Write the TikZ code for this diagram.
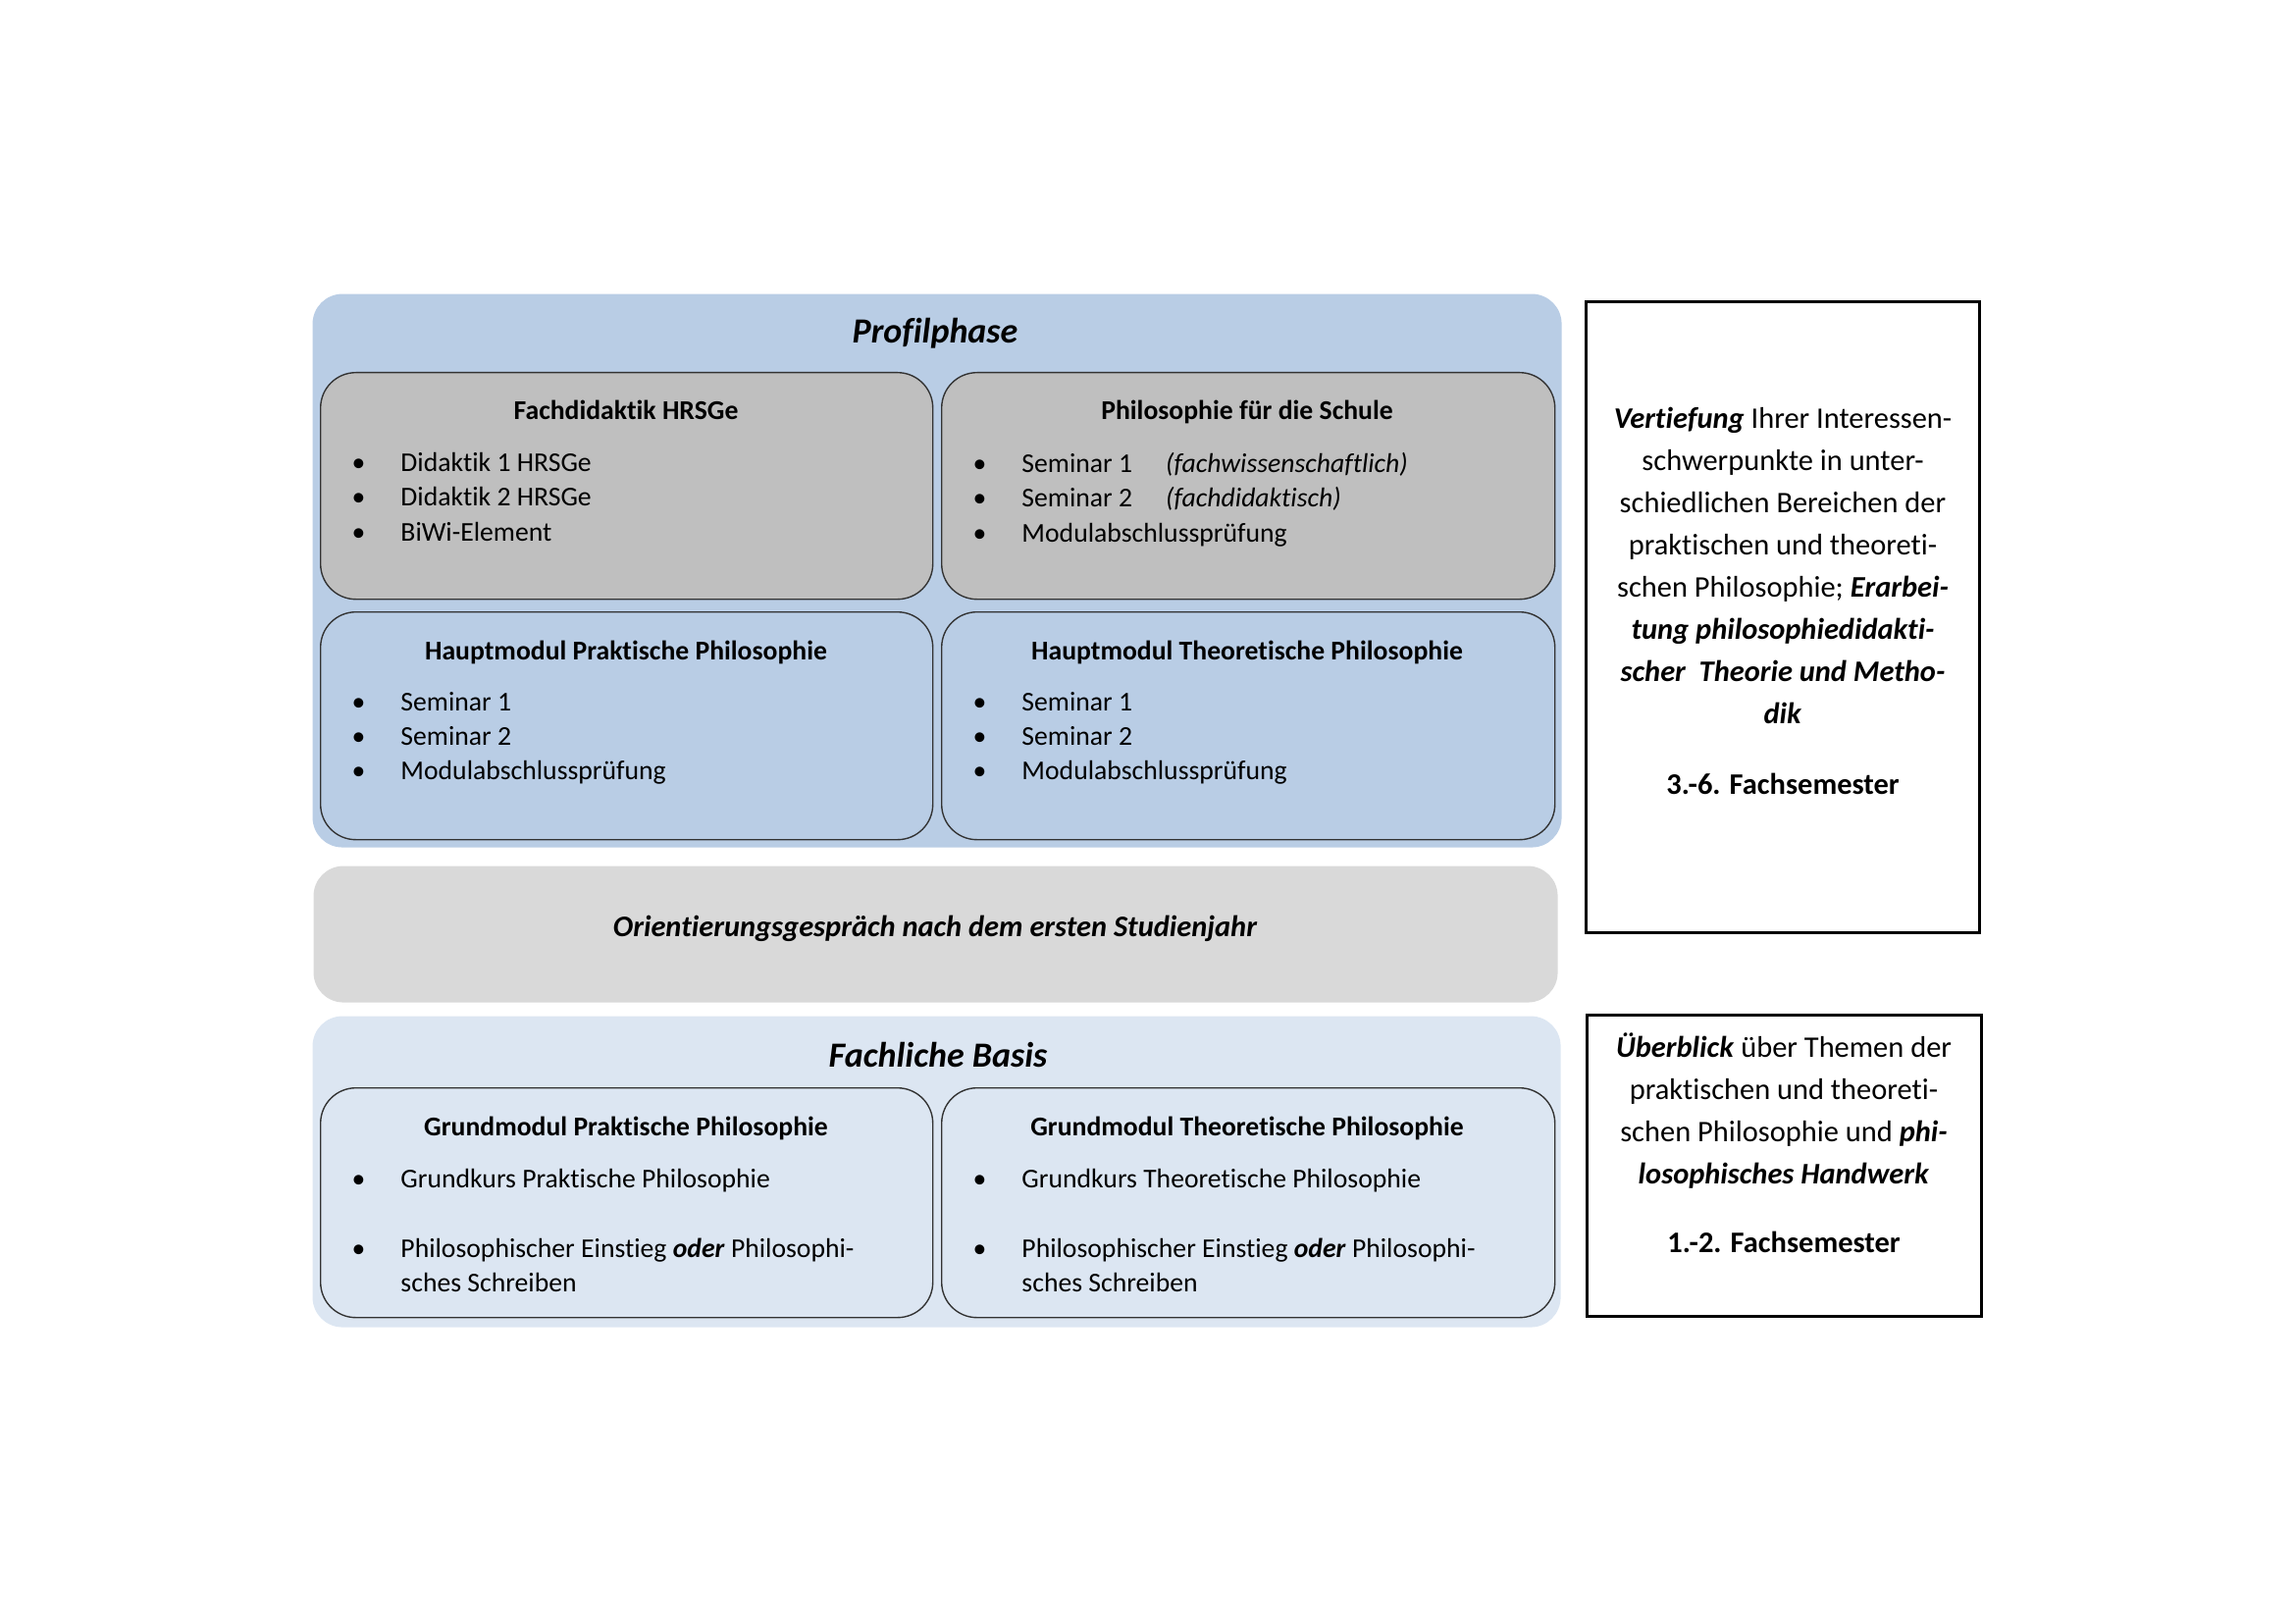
\documentclass[tikz,border=0pt]{standalone}
\usepackage{fontspec}
\setmainfont{Carlito}[Ligatures=CommonOff]
\usetikzlibrary{positioning}
\definecolor{blauhell}{HTML}{B9CDE5}
\definecolor{blausehrhell}{HTML}{DCE6F2}
\definecolor{graumittel}{HTML}{BFBFBF}
\definecolor{grauhell}{HTML}{D9D9D9}
\newcommand{\punkt}{\makebox[15.5pt][l]{\kern-2.5pt\textbullet}}
\newcommand{\bi}[1]{\textbf{\textit{#1}}}

\begin{document}
\begin{tikzpicture}[x=0.012698cm, y=-0.012698cm,
    phase/.style={rounded corners=11pt, anchor=north west, inner sep=0pt},
    modul/.style={draw=black!80, line width=0.5pt, rounded corners=13pt, anchor=north west, inner sep=0pt},
    titel/.style={font=\bfseries\fontsize{10}{12.7}\selectfont, anchor=mid},
    liste/.style={font=\fontsize{10}{12.7}\selectfont, align=left, anchor=north west, inner sep=0pt},
    hinweis/.style={draw, line width=1pt, anchor=north west, inner sep=0pt},
    hinweistext/.style={font=\fontsize{11}{15.5}\selectfont, align=center, anchor=north, inner sep=0pt}]
    \useasboundingbox (0,0) rectangle (2339,1654);
    % Profilphase
    \node[phase, fill=blauhell, minimum width=1273*0.012698cm, minimum height=564*0.012698cm] (profil) at (318,299) {};
    \node[font=\bfseries\itshape\fontsize{13}{15}\selectfont, anchor=mid] (profiltitel) at (953,343) {Profilphase};
    \node[modul, fill=graumittel, minimum width=624*0.012698cm, minimum height=231*0.012698cm] (fachdid) at (326,379) {};
    \node[modul, fill=graumittel, minimum width=625*0.012698cm, minimum height=231*0.012698cm] (schule) at (959,379) {};
    \node[modul, fill=blauhell, minimum width=624*0.012698cm, minimum height=232*0.012698cm] (hmpraktisch) at (326,623) {};
    \node[modul, fill=blauhell, minimum width=625*0.012698cm, minimum height=232*0.012698cm] (hmtheoretisch) at (959,623) {};
    \node[titel] at (638,421) {Fachdidaktik HRSGe};
    \node[titel] at (1271,421) {Philosophie für die Schule};
    \node[titel] at (638,666) {Hauptmodul Praktische Philosophie};
    \node[titel] at (1271,666) {Hauptmodul Theoretische Philosophie};
    \node[liste] (fachdidliste) at (365,461) {\punkt Didaktik 1 HRSGe\\ \punkt Didaktik 2 HRSGe\\ \punkt BiWi-Element};
    \node[liste] (schuleliste) at (998,461) {\punkt \makebox[53pt][l]{Seminar 1}\textit{(fachwissenschaftlich)}\\ \punkt \makebox[53pt][l]{Seminar 2}\textit{(fachdidaktisch)}\\ \punkt Modulabschlussprüfung};
    \node[liste] (hmpliste) at (365,705) {\punkt Seminar 1\\ \punkt Seminar 2\\ \punkt Modulabschlussprüfung};
    \node[liste] (hmtliste) at (998,705) {\punkt Seminar 1\\ \punkt Seminar 2\\ \punkt Modulabschlussprüfung};
    % Orientierung
    \node[phase, fill=grauhell, minimum width=1268*0.012698cm, minimum height=139*0.012698cm] (orient) at (319,882) {};
    \node[font=\bfseries\itshape\fontsize{11}{13}\selectfont, anchor=mid] at (953,948) {Orientierungsgespräch nach dem ersten Studienjahr};
    % Fachliche Basis
    \node[phase, fill=blausehrhell, minimum width=1272*0.012698cm, minimum height=317*0.012698cm] (basis) at (318,1035) {};
    \node[font=\bfseries\itshape\fontsize{13}{15}\selectfont, anchor=mid] (basistitel) at (956,1081) {Fachliche Basis};
    \node[modul, fill=blausehrhell, minimum width=624*0.012698cm, minimum height=234*0.012698cm] (gmpraktisch) at (326,1108) {};
    \node[modul, fill=blausehrhell, minimum width=625*0.012698cm, minimum height=234*0.012698cm] (gmtheoretisch) at (959,1108) {};
    \node[titel] at (638,1151) {Grundmodul Praktische Philosophie};
    \node[titel] at (1271,1151) {Grundmodul Theoretische Philosophie};
    \node[liste] (gmpliste) at (365,1191) {\punkt Grundkurs Praktische Philosophie\\[12.7pt] \punkt Philosophischer Einstieg \textbf{\textit{oder}} Philosophi-\\ \hspace*{15.5pt}sches Schreiben};
    \node[liste] (gmtliste) at (998,1191) {\punkt Grundkurs Theoretische Philosophie\\[12.7pt] \punkt Philosophischer Einstieg \textbf{\textit{oder}} Philosophi-\\ \hspace*{15.5pt}sches Schreiben};
    % Hinweise rechts
    \node[hinweis, minimum width=401*0.012698cm, minimum height=643*0.012698cm] (vertiefung) at (1615,306) {};
    \node[hinweistext] at (1817,415) {\bi{Vertiefung} Ihrer Interessen-\\ schwerpunkte in unter-\\ schiedlichen Bereichen der\\ praktischen und theoreti-\\ schen Philosophie; \bi{Erarbei-}\\ \bi{tung philosophiedidakti-}\\ \bi{scher\ \ Theorie und Metho-}\\ \bi{dik}\\[10.5pt] \textbf{3.-6. Fachsemester}};
    \node[hinweis, minimum width=402*0.012698cm, minimum height=307*0.012698cm] (ueberblick) at (1616,1033) {};
    \node[hinweistext] at (1818,1052) {\bi{Überblick} über Themen der\\ praktischen und theoreti-\\ schen Philosophie und \bi{phi-}\\ \bi{losophisches Handwerk}\\[10pt] \textbf{1.-2. Fachsemester}};
\end{tikzpicture}
\end{document}
